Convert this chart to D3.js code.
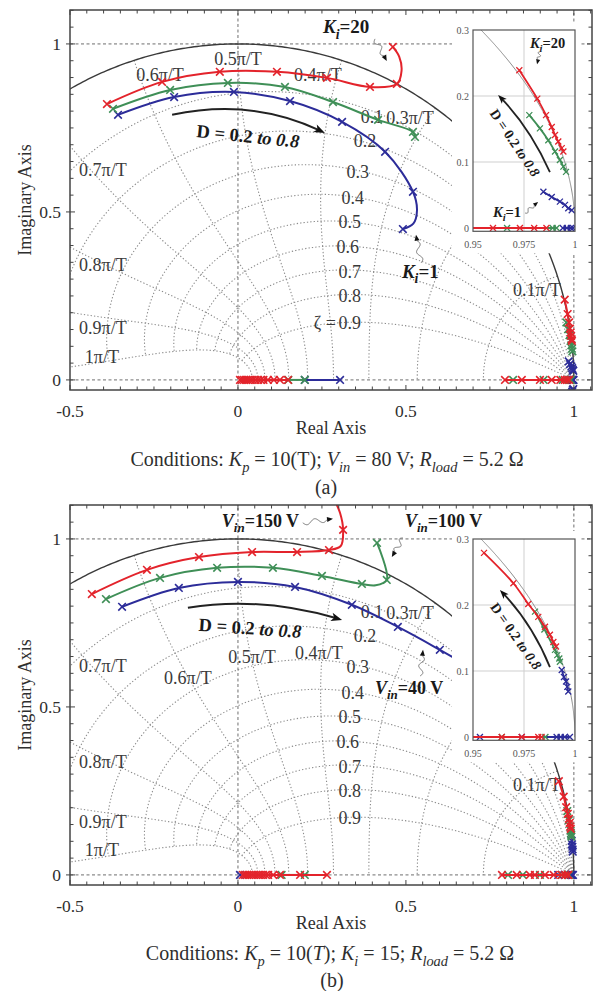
<!DOCTYPE html>
<html>
<head>
<meta charset="utf-8">
<script src="https://cdn.jsdelivr.net/npm/d3@7"></script>
<style>
  body { margin: 0; background: #fff; }
  svg { display: block; }
  text { font-family: "Liberation Serif", "Times New Roman", serif; fill: #2e2e2e; }
</style>
</head>
<body>
<svg id="fig" width="603" height="991"></svg>
<script>
// ---------- axes & grid definitions ----------
const xTicks = [-0.5, 0, 0.5, 1];
const xTickLabels = ["-0.5", "0", "0.5", "1"];
const yTicks = [0, 0.5, 1];
const yTickLabels = ["0", "0.5", "1"];
const insetXTicks = [0.95, 0.975, 1];
const insetXTickLabels = ["0.95", "0.975", "1"];
const insetYTicks = [0, 0.1, 0.2, 0.3];
const insetYTickLabels = ["0", "0.1", "0.2", "0.3"];
const zetaValues = [0.1, 0.2, 0.3, 0.4, 0.5, 0.6, 0.7, 0.8, 0.9];
const wnValues = [0.1, 0.2, 0.3, 0.4, 0.5, 0.6, 0.7, 0.8, 0.9, 1.0];   // × π/T

// damping-ratio labels [text, x, y]
const zetaLabels = [
  ["0.1", 0.399, 0.783], ["0.2", 0.378, 0.711], ["0.3", 0.357, 0.619],
  ["0.4", 0.342, 0.542], ["0.5", 0.333, 0.470], ["0.6", 0.327, 0.396],
  ["0.7", 0.333, 0.321], ["0.8", 0.333, 0.250], ["0.9", 0.333, 0.170]
];
// natural-frequency labels, panel (a) and (b)
const aWnLabels = [
  ["0.1\u03c0/T", 0.890, 0.268], ["0.3\u03c0/T", 0.512, 0.780], ["0.4\u03c0/T", 0.238, 0.908],
  ["0.5\u03c0/T", 0.000, 0.957], ["0.6\u03c0/T", -0.232, 0.908], ["0.7\u03c0/T", -0.402, 0.625],
  ["0.8\u03c0/T", -0.402, 0.342], ["0.9\u03c0/T", -0.402, 0.155], ["1\u03c0/T", -0.405, 0.068]
];
const bWnLabels = [
  ["0.1\u03c0/T", 0.890, 0.268], ["0.3\u03c0/T", 0.512, 0.780], ["0.4\u03c0/T", 0.241, 0.661],
  ["0.5\u03c0/T", 0.042, 0.649], ["0.6\u03c0/T", -0.149, 0.586], ["0.7\u03c0/T", -0.402, 0.622],
  ["0.8\u03c0/T", -0.402, 0.336], ["0.9\u03c0/T", -0.402, 0.158], ["1\u03c0/T", -0.405, 0.074]
];

// ---------- closed-loop poles, D = 0.2 ... 0.8 ----------
// complex branches: [re, im, marker?]; real branches: re only
// (a) Kp = 10(T), Vin = 80 V : red Ki = 20, green intermediate, blue Ki = 1
const aRedUpper = [[-0.390,0.821],[-0.226,0.887],[-0.054,0.917],[0.116,0.917],[0.265,0.899],[0.393,0.872],[0.473,0.881],[0.487,0.920,0],[0.480,0.962,0],[0.461,0.991]];
const aGreenUpper = [[-0.372,0.807],[-0.202,0.863],[-0.030,0.884],[0.140,0.872],[0.283,0.827],[0.417,0.774],[0.521,0.738],[0.527,0.723]];
const aBlueUpper = [[-0.357,0.789],[-0.190,0.842],[-0.012,0.857],[0.155,0.830],[0.310,0.768],[0.438,0.679],[0.521,0.560],[0.533,0.505,0],[0.522,0.465,0],[0.491,0.449]];
const aRedNear = [[0.9727,0.239],[0.9815,0.196],[0.9858,0.171],[0.9886,0.153],[0.9902,0.141],[0.9918,0.131],[0.9935,0.121],[0.9943,0.116]];
const aGreenNear = [[0.9776,0.171],[0.9828,0.151],[0.9869,0.133],[0.9902,0.116],[0.9926,0.103],[0.9943,0.093],[0.9956,0.085]];
const aBlueNear = [[0.9845,0.055],[0.9886,0.047],[0.9926,0.040],[0.9951,0.035],[0.9967,0.030],[0.9984,0.027]];
const aRedReal0 = [0.006, 0.012, 0.018, 0.024, 0.030, 0.037, 0.044, 0.052, 0.060, 0.068, 0.076, 0.089, 0.107, 0.125, 0.149];
const aGreenReal0 = [0.150, 0.199];
const aBlueReal0 = [0.199, 0.304];
const aRedReal1 = [0.795, 0.845, 0.899, 0.934, 0.9598, 0.973, 0.980, 0.986];
const aGreenReal1 = [0.819, 0.910, 0.9667, 0.989, 0.991];
const aBlueReal1 = [0.994, 0.996, 0.998, 0.999];

// (b) Kp = 10(T), Ki = 15 : red Vin = 150 V, green 100 V, blue 40 V
const bRedUpper = [[-0.435,0.836],[-0.271,0.908],[-0.116,0.946],[0.042,0.961],[0.176,0.961],[0.271,0.967],[0.306,0.979,0],[0.313,1.027],[0.304,1.077,0],[0.285,1.120,0]];
const bGreenUpper = [[-0.393,0.821],[-0.232,0.884],[-0.062,0.914],[0.104,0.914],[0.250,0.890],[0.369,0.866],[0.410,0.862,0],[0.443,0.878],[0.414,0.988]];
const bBlueUpper = [[-0.345,0.798],[-0.176,0.854],[0.000,0.872],[0.170,0.857],[0.339,0.804],[0.476,0.738],[0.601,0.670],[0.680,0.625,0]];
const bRedNear = [[0.9554,0.279],[0.9698,0.233],[0.9771,0.2015],[0.9820,0.182],[0.9853,0.167],[0.9877,0.155],[0.9894,0.144],[0.9907,0.137]];
const bGreenNear = [[0.9804,0.190],[0.9850,0.163],[0.9902,0.132],[0.9913,0.124],[0.9923,0.119],[0.9926,0.114]];
const bBlueNear = [[0.9935,0.1015],[0.9946,0.091],[0.9956,0.084],[0.9962,0.076],[0.9967,0.069]];
const bRedReal0 = [0.015, 0.021, 0.027, 0.033, 0.040, 0.047, 0.054, 0.061, 0.068, 0.075, 0.083, 0.090, 0.105, 0.125, 0.185, 0.265];
const bGreenReal0 = [0.130, 0.199];
const bBlueReal0 = [0.006];
const bRedReal1 = [0.786, 0.830, 0.869, 0.884, 0.914, 0.940, 0.9641, 0.9739, 0.982, 0.9836];
const bGreenReal1 = [0.804, 0.848, 0.899, 0.9641, 0.9855];
const bBlueReal1 = [0.9534, 0.9739, 0.991, 0.993, 0.995, 0.9975];

const RED = "#e3232b", GREEN = "#3f8f57", BLUE = "#2c2c99";

// ---------- layout ----------
const svg = d3.select("#fig");
const defs = svg.append("defs");
const X_DOM = [-0.5, 1.054], Y_DOM = [-0.03, 1.101];
const PLOT_X = [70, 592], PLOT_Y = [390, 10];
const IN_X = [473, 575], IN_Y = [231.3, 30];
const IN_XDOM = [0.95, 1.0], IN_YDOM = [-0.005, 0.3];

function zPoint(zeta, w) {
  const r = Math.exp(-zeta * w), a = w * Math.sqrt(Math.max(0, 1 - zeta * zeta));
  return [r * Math.cos(a), r * Math.sin(a)];
}

function rich(sel, x, y, parts, size, opts = {}) {
  const t = sel.append("text").attr("x", x).attr("y", y).attr("font-size", size)
    .attr("text-anchor", opts.anchor || "start");
  if (opts.bold) t.attr("font-weight", "bold");
  if (opts.fill) t.style("fill", opts.fill);
  if (opts.rotate) t.attr("transform", `rotate(${opts.rotate},${x},${y})`);
  if (opts.dy) t.attr("dy", opts.dy);
  let shift = 0;
  parts.forEach(p => {
    const s = t.append("tspan").text(p.t);
    if (p.it) s.attr("font-style", "italic");
    const target = p.sub ? size * 0.3 : 0;
    if (target !== shift) { s.attr("dy", target - shift); shift = target; }
    if (p.sub) s.attr("font-size", size * 0.72);
  });
  return t;
}

// wavy leader line ending in a small filled arrowhead
function squiggle(g, p0, p1, amp, head) {
  const dx = p1[0] - p0[0], dy = p1[1] - p0[1], L = Math.hypot(dx, dy);
  const ux = dx / L, uy = dy / L, nx = -uy, ny = ux;
  const body = L - head;
  const pts = d3.range(0, 41).map(i => {
    const s = i / 40 * body;
    const off = amp * Math.sin(s / body * 1.5 * 2 * Math.PI);
    return [p0[0] + ux * s + nx * off, p0[1] + uy * s + ny * off];
  });
  g.append("path").attr("d", d3.line().curve(d3.curveBasis)(pts)).attr("fill", "none")
    .attr("stroke", "#777").attr("stroke-width", 1);
  const b = [p1[0] - ux * head, p1[1] - uy * head], w = head * 0.42;
  g.append("path").attr("d", `M${p1[0]},${p1[1]}L${b[0] + nx * w},${b[1] + ny * w}L${b[0] - nx * w},${b[1] - ny * w}Z`)
    .attr("fill", "#111");
}

function arcArrow(g, p0, c, p2, width, head) {
  const dx = p2[0] - c[0], dy = p2[1] - c[1], L = Math.hypot(dx, dy);
  const ux = dx / L, uy = dy / L, nx = -uy, ny = ux;
  const end = [p2[0] - ux * head * 0.6, p2[1] - uy * head * 0.6];
  g.append("path").attr("d", `M${p0[0]},${p0[1]}Q${c[0]},${c[1]} ${end[0]},${end[1]}`)
    .attr("fill", "none").attr("stroke", "#222").attr("stroke-width", width);
  const b = [p2[0] - ux * head, p2[1] - uy * head], w = head * 0.38;
  g.append("path").attr("d", `M${p2[0]},${p2[1]}L${b[0] + nx * w},${b[1] + ny * w}L${b[0] + ux * head * 0.25},${b[1] + uy * head * 0.25}L${b[0] - nx * w},${b[1] - ny * w}Z`)
    .attr("fill", "#111");
}

function crossPath(s) { return `M${-s},${-s}L${s},${s}M${-s},${s}L${s},${-s}`; }

function drawBranches(g, xs, ys, series, lw, ms, mw) {
  const curve = d3.line().curve(d3.curveCatmullRom.alpha(0.5)).x(d => xs(d[0])).y(d => ys(d[1]));
  series.forEach(s => {
    const complex = [s.upper, s.near].filter(Boolean);
    const groups = [];
    complex.forEach(br => {
      groups.push(br);
      groups.push(br.map(d => [d[0], -d[1], d[2]]));  // conjugate poles
    });
    [s.real0, s.real1].forEach(r => groups.push(r.map(v => [v, 0])));
    groups.forEach(br => {
      if (br.length > 1) {
        g.append("path").attr("d", curve(br)).attr("fill", "none")
          .attr("stroke", s.color).attr("stroke-width", lw);
      }
      br.filter(d => d[2] !== 0).forEach(d => {
        g.append("path").attr("d", crossPath(ms))
          .attr("transform", `translate(${xs(d[0])},${ys(d[1])})`)
          .attr("fill", "none").attr("stroke", s.color).attr("stroke-width", mw);
      });
    });
  });
}

function drawPanel(P) {
  const top = P.top;
  const xs = d3.scaleLinear().domain(X_DOM).range(PLOT_X);
  const ys = d3.scaleLinear().domain(Y_DOM).range([PLOT_Y[0] + top, PLOT_Y[1] + top]);
  const g = svg.append("g");

  const clipId = "clip-" + P.id;
  defs.append("clipPath").attr("id", clipId).append("rect")
    .attr("x", PLOT_X[0]).attr("y", PLOT_Y[1] + top)
    .attr("width", PLOT_X[1] - PLOT_X[0]).attr("height", PLOT_Y[0] - PLOT_Y[1]);
  const inner = g.append("g").attr("clip-path", `url(#${clipId})`);

  // z-plane grid: constant damping ratio and constant natural frequency
  const gl = d3.line().x(d => xs(d[0])).y(d => ys(d[1]));
  const gridStyle = p => p.attr("fill", "none").attr("stroke", "#8c8c8c")
    .attr("stroke-width", 1.1).attr("stroke-dasharray", "1.3,2.1");
  zetaValues.forEach(z => {
    const pts = d3.range(0, 241).map(i => zPoint(z, Math.PI * i / 240));
    gridStyle(inner.append("path").attr("d", gl(pts)));
  });
  wnValues.forEach(w => {
    const pts = d3.range(0, 121).map(i => zPoint(i / 120, w * Math.PI));
    gridStyle(inner.append("path").attr("d", gl(pts)));
  });

  // dashed reference lines
  [0, 1].forEach(v => {
    inner.append("line").attr("x1", xs(v)).attr("x2", xs(v)).attr("y1", ys(Y_DOM[0])).attr("y2", ys(Y_DOM[1]))
      .attr("stroke", "#6e6e6e").attr("stroke-width", 1).attr("stroke-dasharray", "3,2.5");
    inner.append("line").attr("x1", xs(X_DOM[0])).attr("x2", xs(X_DOM[1])).attr("y1", ys(v)).attr("y2", ys(v))
      .attr("stroke", "#6e6e6e").attr("stroke-width", 1).attr("stroke-dasharray", "3,2.5");
  });

  // unit circle
  const circ = d3.range(0, 361).map(i => [Math.cos(Math.PI * i / 360), Math.sin(Math.PI * i / 360)]);
  inner.append("path").attr("d", gl(circ)).attr("fill", "none")
    .attr("stroke", "#3a3a3a").attr("stroke-width", 1.4);

  // grid labels
  P.wnLabels.forEach(([t, x, y]) => {
    inner.append("text").attr("x", xs(x)).attr("y", ys(y)).attr("dy", "0.35em")
      .attr("text-anchor", "middle").attr("font-size", 18).style("fill", "#3a3a3a").text(t);
  });
  zetaLabels.forEach(([t, x, y]) => {
    inner.append("text").attr("x", xs(x)).attr("y", ys(y)).attr("dy", "0.35em")
      .attr("text-anchor", "middle").attr("font-size", 18).style("fill", "#3a3a3a").text(t);
  });
  if (P.zetaPrefix) {
    const l = zetaLabels[zetaLabels.length - 1];
    inner.append("text").attr("x", xs(l[1]) - 14).attr("y", ys(l[2])).attr("dy", "0.35em")
      .attr("text-anchor", "end").attr("font-size", 18).style("fill", "#3a3a3a").text("\u03b6 =");
  }

  // root-locus branches
  drawBranches(inner, xs, ys, P.series, 2, 3.8, 1.6);

  // inset: zoom around z = 1
  const sh = top + P.insetShift;
  const xi = d3.scaleLinear().domain(IN_XDOM).range(IN_X);
  const yi = d3.scaleLinear().domain(IN_YDOM).range([IN_Y[0] + sh, IN_Y[1] + sh]);
  g.append("rect").attr("x", 452).attr("y", IN_Y[1] + sh - 8)
    .attr("width", 128).attr("height", IN_Y[0] - IN_Y[1] + 30).attr("fill", "#fff");
  const inClip = "inclip-" + P.id;
  defs.append("clipPath").attr("id", inClip).append("rect")
    .attr("x", IN_X[0]).attr("y", IN_Y[1] + sh).attr("width", IN_X[1] - IN_X[0]).attr("height", IN_Y[0] - IN_Y[1]);
  const ig = g.append("g").attr("clip-path", `url(#${inClip})`);
  [0.975].forEach(v => ig.append("line").attr("x1", xi(v)).attr("x2", xi(v))
    .attr("y1", yi(IN_YDOM[0])).attr("y2", yi(IN_YDOM[1])).attr("stroke", "#cfcfcf").attr("stroke-width", 1));
  [0.1, 0.2].forEach(v => ig.append("line").attr("y1", yi(v)).attr("y2", yi(v))
    .attr("x1", xi(IN_XDOM[0])).attr("x2", xi(IN_XDOM[1])).attr("stroke", "#cfcfcf").attr("stroke-width", 1));
  const il = d3.line().x(d => xi(d[0])).y(d => yi(d[1]));
  const ic = d3.range(0, 201).map(i => { const a = 0.32 * i / 200; return [Math.cos(a), Math.sin(a)]; });
  ig.append("path").attr("d", il(ic)).attr("fill", "none").attr("stroke", "#8a8a8a").attr("stroke-width", 1);
  drawBranches(ig, xi, yi, P.series, 1.8, 3, 1.3);
  g.append("rect").attr("x", IN_X[0]).attr("y", IN_Y[1] + sh).attr("width", IN_X[1] - IN_X[0])
    .attr("height", IN_Y[0] - IN_Y[1]).attr("fill", "none").attr("stroke", "#555").attr("stroke-width", 1.2);
  insetYTicks.forEach((v, i) => {
    g.append("text").attr("x", IN_X[0] - 4).attr("y", yi(v)).attr("dy", "0.35em").attr("text-anchor", "end")
      .attr("font-size", 10).style("fill", "#555").text(insetYTickLabels[i]);
  });
  insetXTicks.forEach((v, i) => {
    g.append("text").attr("x", xi(v)).attr("y", IN_Y[0] + sh + 17).attr("text-anchor", "middle")
      .attr("font-size", 10).style("fill", "#555").text(insetXTickLabels[i]);
  });

  // annotations
  const ann = g.append("g");
  P.notes.forEach(n => {
    const X = n.inset ? xi : xs, Y = n.inset ? yi : ys;
    if (n.type === "text") {
      rich(ann, X(n.at[0]), Y(n.at[1]), n.parts, n.size,
        { bold: true, fill: "#1a1a1a", anchor: n.anchor, rotate: n.rotate, dy: n.anchor === "middle" ? "0.35em" : null });
    } else if (n.type === "squiggle") {
      squiggle(ann, [X(n.from[0]), Y(n.from[1])], [X(n.to[0]), Y(n.to[1])], n.amp || 2.5, n.head || 6);
    } else if (n.type === "arc") {
      arcArrow(ann, [X(n.p[0][0]), Y(n.p[0][1])], [X(n.p[1][0]), Y(n.p[1][1])], [X(n.p[2][0]), Y(n.p[2][1])], n.width, n.head);
    }
  });

  // frame and ticks
  g.append("rect").attr("x", PLOT_X[0]).attr("y", PLOT_Y[1] + top)
    .attr("width", PLOT_X[1] - PLOT_X[0]).attr("height", PLOT_Y[0] - PLOT_Y[1])
    .attr("fill", "none").attr("stroke", "#444").attr("stroke-width", 1.5);
  const tk = g.append("g").attr("stroke", "#444").attr("stroke-width", 1);
  d3.range(-10, 22).map(i => i * 0.05).forEach(v => {
    const major = Math.abs(v * 2 - Math.round(v * 2)) < 1e-6;
    const x = xs(v), len = major ? 5 : 3.5;
    tk.append("line").attr("x1", x).attr("x2", x).attr("y1", PLOT_Y[0] + top).attr("y2", PLOT_Y[0] + top - len);
    tk.append("line").attr("x1", x).attr("x2", x).attr("y1", PLOT_Y[1] + top).attr("y2", PLOT_Y[1] + top + len);
  });
  d3.range(0, 23).map(i => i * 0.05).forEach(v => {
    const major = Math.abs(v * 2 - Math.round(v * 2)) < 1e-6;
    const y = ys(v), len = major ? 5 : 3.5;
    tk.append("line").attr("y1", y).attr("y2", y).attr("x1", PLOT_X[0] - (major ? 4 : 0)).attr("x2", PLOT_X[0] + len);
    tk.append("line").attr("y1", y).attr("y2", y).attr("x1", PLOT_X[1]).attr("x2", PLOT_X[1] - len);
  });
  xTicks.forEach((v, i) => g.append("text").attr("x", xs(v)).attr("y", 417 + top)
    .attr("text-anchor", "middle").attr("font-size", 17.5).text(xTickLabels[i]));
  yTicks.forEach((v, i) => g.append("text").attr("x", 61).attr("y", ys(v)).attr("dy", "0.35em")
    .attr("text-anchor", "end").attr("font-size", 17.5).text(yTickLabels[i]));
  g.append("text").attr("x", 331).attr("y", 434 + top).attr("text-anchor", "middle")
    .attr("font-size", 18).text("Real Axis");
  g.append("text").attr("transform", `translate(31,${200 + top}) rotate(-90)`).attr("text-anchor", "middle")
    .attr("font-size", 18).text("Imaginary Axis");

  rich(g, P.captionX, P.captionY, P.caption, 20, { anchor: "middle" });
  g.append("text").attr("x", P.tagX).attr("y", P.tagY).attr("text-anchor", "middle")
    .attr("font-size", 20).text(P.tag);
}

const dParts = [{ t: "D = 0.2 " }, { t: "to 0.8", it: true }];

drawPanel({
  id: "a", top: 0, insetShift: 0, zetaPrefix: true, wnLabels: aWnLabels,
  series: [
    { color: BLUE, upper: aBlueUpper, near: aBlueNear, real0: aBlueReal0, real1: aBlueReal1 },
    { color: GREEN, upper: aGreenUpper, near: aGreenNear, real0: aGreenReal0, real1: aGreenReal1 },
    { color: RED, upper: aRedUpper, near: aRedNear, real0: aRedReal0, real1: aRedReal1 }
  ],
  notes: [
    { type: "text", at: [0.253, 1.033], size: 19, parts: [{ t: "K", it: true }, { t: "i", it: true, sub: true }, { t: "=20" }] },
    { type: "squiggle", from: [0.408, 1.015], to: [0.443, 0.949] },
    { type: "text", at: [0.488, 0.304], size: 19, parts: [{ t: "K", it: true }, { t: "i", it: true, sub: true }, { t: "=1" }] },
    { type: "squiggle", from: [0.545, 0.348], to: [0.530, 0.432] },
    { type: "text", at: [0.030, 0.726], size: 18.5, anchor: "middle", rotate: 6, parts: dParts },
    { type: "arc", p: [[-0.196, 0.789], [0.039, 0.839], [0.259, 0.735]], width: 2, head: 11 },
    { type: "text", inset: true, at: [0.9779, 0.273], size: 14.5, parts: [{ t: "K", it: true }, { t: "i", it: true, sub: true }, { t: "=20" }] },
    { type: "squiggle", inset: true, from: [0.9828, 0.267], to: [0.9814, 0.248], amp: 1.6, head: 5 },
    { type: "text", inset: true, at: [0.9598, 0.0167], size: 14.5, parts: [{ t: "K", it: true }, { t: "i", it: true, sub: true }, { t: "=1" }] },
    { type: "squiggle", inset: true, from: [0.9755, 0.0227], to: [0.9819, 0.0394], amp: 1.6, head: 5 },
    { type: "text", inset: true, at: [0.9706, 0.129], size: 14, anchor: "middle", rotate: 56, parts: dParts },
    { type: "arc", inset: true, p: [[0.9877, 0.0848], [0.9779, 0.1515], [0.9623, 0.2015]], width: 1.8, head: 9 }
  ],
  caption: [{ t: "Conditions: " }, { t: "K", it: true }, { t: "p", it: true, sub: true }, { t: " = 10(T); " },
            { t: "V", it: true }, { t: "in", it: true, sub: true }, { t: " = 80 V; " },
            { t: "R", it: true }, { t: "load", it: true, sub: true }, { t: " = 5.2 \u03a9" }],
  captionX: 327, captionY: 466, tag: "(a)", tagX: 326, tagY: 494
});

drawPanel({
  id: "b", top: 495, insetShift: 14, zetaPrefix: false, wnLabels: bWnLabels,
  series: [
    { color: BLUE, upper: bBlueUpper, near: bBlueNear, real0: bBlueReal0, real1: bBlueReal1 },
    { color: GREEN, upper: bGreenUpper, near: bGreenNear, real0: bGreenReal0, real1: bGreenReal1 },
    { color: RED, upper: bRedUpper, near: bRedNear, real0: bRedReal0, real1: bRedReal1 }
  ],
  notes: [
    { type: "text", at: [-0.048, 1.036], size: 18, parts: [{ t: "V", it: true }, { t: "in", it: true, sub: true }, { t: "=150 V" }] },
    { type: "squiggle", from: [0.193, 1.048], to: [0.283, 1.060] },
    { type: "text", at: [0.497, 1.036], size: 18, parts: [{ t: "V", it: true }, { t: "in", it: true, sub: true }, { t: "=100 V" }] },
    { type: "squiggle", from: [0.491, 1.003], to: [0.458, 0.946] },
    { type: "text", at: [0.408, 0.539], size: 18, parts: [{ t: "V", it: true }, { t: "in", it: true, sub: true }, { t: "=40 V" }] },
    { type: "squiggle", from: [0.542, 0.592], to: [0.551, 0.670] },
    { type: "text", at: [0.036, 0.735], size: 18.5, anchor: "middle", rotate: 4, parts: dParts },
    { type: "arc", p: [[-0.149, 0.795], [0.063, 0.830], [0.310, 0.759]], width: 2, head: 11 },
    { type: "text", inset: true, at: [0.9711, 0.153], size: 14, anchor: "middle", rotate: 55, parts: dParts },
    { type: "arc", inset: true, p: [[0.9877, 0.106], [0.979, 0.171], [0.9632, 0.2227]], width: 1.8, head: 9 }
  ],
  caption: [{ t: "Conditions: " }, { t: "K", it: true }, { t: "p", it: true, sub: true }, { t: " = 10(" }, { t: "T", it: true },
            { t: "); " }, { t: "K", it: true }, { t: "i", it: true, sub: true }, { t: " = 15; " },
            { t: "R", it: true }, { t: "load", it: true, sub: true }, { t: " = 5.2 \u03a9" }],
  captionX: 330, captionY: 960, tag: "(b)", tagX: 332, tagY: 987
});
</script>
</body>
</html>
